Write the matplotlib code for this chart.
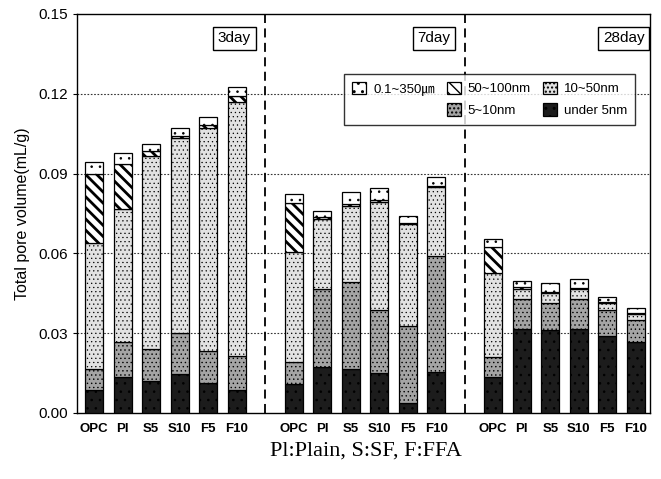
import numpy as np
import matplotlib as mpl
import matplotlib.pyplot as plt
from matplotlib.patches import Patch

plt.rcParams['font.family'] = ['Liberation Sans', 'Noto Sans CJK KR', 'DejaVu Sans']

samples = ['OPC', 'Pl', 'S5', 'S10', 'F5', 'F10']
days = ['3day', '7day', '28day']

# pore volume by size range (mL/g), order: 3day x6, 7day x6, 28day x6
under5 = [0.0087, 0.0135, 0.0120, 0.0147, 0.0113, 0.0087,
          0.0109, 0.0173, 0.0165, 0.0150, 0.0038, 0.0154,
          0.0135, 0.0316, 0.0312, 0.0316, 0.0290, 0.0267]
nm5_10 = [0.0078, 0.0132, 0.0121, 0.0154, 0.0120, 0.0127,
          0.0083, 0.0293, 0.0328, 0.0237, 0.0289, 0.0436,
          0.0075, 0.0113, 0.0102, 0.0113, 0.0097, 0.0083]
nm10_50 = [0.0475, 0.0500, 0.0725, 0.0733, 0.0838, 0.0955,
           0.0413, 0.0265, 0.0285, 0.0406, 0.0384, 0.0258,
           0.0316, 0.0037, 0.0037, 0.0037, 0.0027, 0.0022]
nm50_100 = [0.0260, 0.0169, 0.0019, 0.0007, 0.0012, 0.0023,
            0.0185, 0.0006, 0.0008, 0.0008, 0.0003, 0.0005,
            0.0098, 0.0008, 0.0004, 0.0004, 0.0003, 0.0004]
um01_350 = [0.0044, 0.0042, 0.0026, 0.0030, 0.0030, 0.0034,
            0.0033, 0.0022, 0.0045, 0.0045, 0.0027, 0.0034,
            0.0030, 0.0022, 0.0034, 0.0034, 0.0019, 0.0019]

layers = [under5, nm5_10, nm10_50, nm50_100, um01_350]
labels = ['under 5nm', '5~10nm', '10~50nm', '50~100nm', '0.1~350㎛']
faces = ['#1c1c1c', '#a4a4a4', '#e2e2e2', 'white', 'white']
hatches = ['..', '....', '....', '\\\\\\', '..']
hatch_lw = [0.6, 0.5, 0.4, 2.0, 0.6]

x = np.concatenate([np.arange(6), np.arange(7, 13), np.arange(14, 20)])

fig = plt.figure(figsize=(6.61, 4.79), dpi=100)
ax = fig.add_axes([0.1165, 0.1378, 0.867, 0.833])

bottom = np.zeros(len(x))
handles = {}
for vals, lab, fc, h, hlw in zip(layers, labels, faces, hatches, hatch_lw):
    vals = np.array(vals)
    with mpl.rc_context({'hatch.linewidth': hlw}):
        bars = ax.bar(x, vals, 0.63, bottom=bottom, color=fc, edgecolor='black',
                      hatch=h, linewidth=0.9, zorder=3)
    handles[lab] = bars
    bottom += vals

ax.set_xlim(-0.6, 19.5)
ax.set_ylim(0, 0.15)
ax.set_yticks([0.0, 0.03, 0.06, 0.09, 0.12, 0.15])
ax.set_yticklabels(['0.00', '0.03', '0.06', '0.09', '0.12', '0.15'], fontsize=11)
ax.set_xticks(x)
ax.set_xticklabels(samples * 3, fontsize=9.5, fontweight='bold')
ax.tick_params(axis='x', length=0, pad=7)
ax.tick_params(axis='y', length=3, direction='out')
ax.set_ylabel('Total pore volume(mL/g)', fontsize=11.5, labelpad=6)

for yy in [0.03, 0.06, 0.09, 0.12]:
    ax.axhline(yy, color='#333333', linestyle=(0, (1.5, 1.5)), linewidth=0.8, zorder=1)
for xx in [6, 13]:
    ax.axvline(xx, color='black', linestyle=(0, (5, 3)), linewidth=1.3, zorder=2)
for sp in ax.spines.values():
    sp.set_linewidth(1.0)

day_x = [5.5, 12.5, 19.3]
for d, dx in zip(days, day_x):
    ax.text(dx, 0.1435, d, ha='right', va='top', fontsize=11,
            bbox=dict(boxstyle='square,pad=0.3', fc='white', ec='black', lw=1.0), zorder=5)

blank = Patch(facecolor='none', edgecolor='none')
order = ['0.1~350㎛', None, '50~100nm', '5~10nm', '10~50nm', 'under 5nm']
hl = [handles[k] if k else blank for k in order]
ll = [k if k else '' for k in order]
leg = ax.legend(hl, ll, ncol=3, loc='upper right', bbox_to_anchor=(0.985, 0.867),
                fontsize=9.5, frameon=True, fancybox=False, edgecolor='black',
                handlelength=1.1, handleheight=1.1, columnspacing=0.9,
                handletextpad=0.5, borderpad=0.6, labelspacing=0.6)
leg.get_frame().set_linewidth(1.0)
leg.set_zorder(6)

fig.text(0.553, 0.058, 'Pl:Plain, S:SF, F:FFA', ha='center', va='center',
         fontsize=16, family='Liberation Serif')

fig.savefig('out.png', dpi=100)
